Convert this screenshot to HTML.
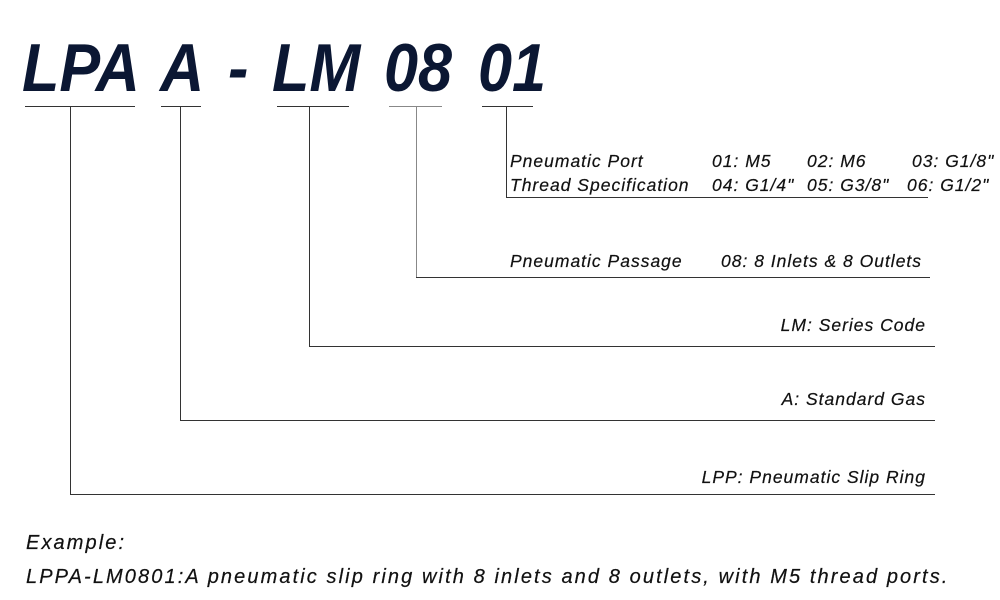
<!DOCTYPE html>
<html><head><style>
body{margin:0;width:1000px;height:600px;background:#fff;position:relative;overflow:hidden;font-family:"Liberation Sans",sans-serif;}
.t{position:absolute;font-style:italic;color:#111;font-size:17.5px;letter-spacing:1px;white-space:nowrap;line-height:1;-webkit-text-stroke:0.2px #111;}
.big{position:absolute;top:34px;font-size:68px;font-weight:bold;font-style:italic;color:#0b1733;white-space:nowrap;line-height:1;transform:scaleX(0.9);transform-origin:left top;}
.h{position:absolute;height:1px;background:#333;}
.v{position:absolute;width:1px;background:#333;}
</style></head><body>
<div class="big" style="left:22px">LPA</div>
<div class="big" style="left:160px">A</div>
<div class="big" style="left:228px">-</div>
<div class="big" style="left:272px">LM</div>
<div class="big" style="left:384px">08</div>
<div class="big" style="left:478px">01</div>

<div class="h" style="left:25px;width:110px;top:106px"></div>
<div class="h" style="left:161px;width:40px;top:106px"></div>
<div class="h" style="left:277px;width:72px;top:106px"></div>
<div class="h" style="left:389px;width:53px;top:106px;background:#888"></div>
<div class="h" style="left:482px;width:51px;top:106px"></div>

<div class="v" style="left:506px;top:106px;height:91px"></div>
<div class="h" style="left:506px;width:422px;top:197px"></div>
<div class="v" style="left:416px;top:106px;height:171px;background:#888"></div>
<div class="h" style="left:416px;width:514px;top:277px"></div>
<div class="v" style="left:309px;top:106px;height:240px"></div>
<div class="h" style="left:309px;width:626px;top:346px"></div>
<div class="v" style="left:180px;top:106px;height:314px"></div>
<div class="h" style="left:180px;width:755px;top:420px"></div>
<div class="v" style="left:70px;top:106px;height:388px"></div>
<div class="h" style="left:70px;width:865px;top:494px"></div>

<div class="t" style="left:510px;top:153px">Pneumatic Port</div>
<div class="t" style="left:712px;top:153px">01: M5</div>
<div class="t" style="left:807px;top:153px">02: M6</div>
<div class="t" style="left:912px;top:153px">03: G1/8"</div>
<div class="t" style="left:510px;top:177px">Thread Specification</div>
<div class="t" style="left:712px;top:177px">04: G1/4"</div>
<div class="t" style="left:807px;top:177px">05: G3/8"</div>
<div class="t" style="left:907px;top:177px">06: G1/2"</div>
<div class="t" style="left:510px;top:253px">Pneumatic Passage</div>
<div class="t" style="left:721px;top:253px">08: 8 Inlets &amp; 8 Outlets</div>
<div class="t" style="right:74px;top:317px">LM: Series Code</div>
<div class="t" style="right:74px;top:391px">A: Standard Gas</div>
<div class="t" style="right:74px;top:469px">LPP: Pneumatic Slip Ring</div>

<div class="t" style="left:26px;top:533px;font-size:20px;letter-spacing:2.1px">Example:</div>
<div class="t" style="left:26px;top:567px;font-size:20px;letter-spacing:2.1px">LPPA-LM0801:A pneumatic slip ring with 8 inlets and 8 outlets, with M5 thread ports.</div>
</body></html>
